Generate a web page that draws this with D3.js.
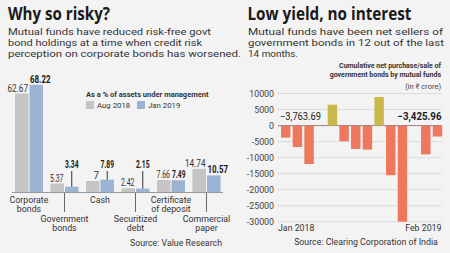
<!DOCTYPE html>
<html><head><meta charset="utf-8">
<script src="https://cdn.jsdelivr.net/npm/d3@7"></script>
<style>
html,body{margin:0;padding:0;background:#f3f3f3;}
svg{display:block;font-family:Roboto,"Open Sans",sans-serif;}
</style></head>
<body><svg id="c" width="450" height="253"></svg>
<script>
// ---- Data: left chart ----
const categories = ["Corporate bonds","Government bonds","Cash","Securitized debt","Certificate of deposit","Commercial paper"];
const categoryLines = [["Corporate","bonds"],["Government","bonds"],["Cash"],["Securitized","debt"],["Certificate","of deposit"],["Commercial","paper"]];
const aug2018 = [62.67,5.37,7,2.42,7.66,14.74];
const jan2019 = [68.22,3.34,7.89,2.15,7.49,10.57];
const seriesNames = ["Aug 2018","Jan 2019"];
const raisedJanLabel = [false,true,true,true,false,false];
const lowCategoryLabel = [false,true,false,true,false,true];

// ---- Data: right chart ----
const months = ["Jan 2018","Feb 2018","Mar 2018","Apr 2018","May 2018","Jun 2018","Jul 2018","Aug 2018","Sep 2018","Oct 2018","Nov 2018","Dec 2018","Jan 2019","Feb 2019"];
const netFlows = [-3763.69,-6700,-12000,-150,6500,-4900,-7300,-7500,8900,-15500,-30000,-150,-9000,-3425.96];
const yTicks = [10000,5000,0,-5000,-10000,-15000,-20000,-25000,-30000];
const xTickLabels = ["Jan 2018","Feb 2019"];

const svg = d3.select("#c");
const fmt = d3.format(",.2f");

function txt(x,y,s,o){
  const t = svg.append("text").attr("x",x).attr("y",y).text(s)
    .attr("font-size",o.size).attr("font-weight",o.weight||400).attr("fill",o.fill||"#222")
    .attr("text-anchor",o.anchor||"start");
  if(o.len){t.attr("textLength",o.len).attr("lengthAdjust","spacingAndGlyphs");}
  if(o.family){t.attr("font-family",o.family);}
  return t;
}
function valLen(s){ return s.length>=5 ? 20.5 : (s.length===4 ? 13.5 : 5.5); }

// ---- Left panel text ----
txt(8,20,"Why so risky?",{size:18,weight:700,len:102,fill:"#1a1a1a",family:"'Open Sans',sans-serif"});
txt(8,35,"Mutual funds have reduced risk-free govt",{size:9.4,len:203,fill:"#333"});
txt(8,46,"bond holdings at a time when credit risk",{size:9.4,len:194,fill:"#333"});
txt(8,57,"perception on corporate bonds has worsened.",{size:9.4,len:233,fill:"#333"});

const xL = d3.scaleBand().domain(categories).range([11.25,224.25]).paddingInner(0.21).paddingOuter(0.105);
const xS = d3.scaleBand().domain(seriesNames).range([0,xL.bandwidth()]).paddingInner(0.07);
const yL = d3.scaleLinear().domain([0,70]).range([192,82]);
const colL = {"Aug 2018":"#c5c5c5","Jan 2019":"#9db3d3"};

const g = svg.append("g");
categories.forEach((c,i)=>{
  const vals = [aug2018[i],jan2019[i]];
  seriesNames.forEach((s,j)=>{
    const x = xL(c)+xS(s), w = xS.bandwidth(), v = vals[j];
    g.append("rect").attr("x",x).attr("y",yL(v)).attr("width",w).attr("height",yL(0)-yL(v)).attr("fill",colL[s]);
    const cx = x+w/2, lab = String(v), L = valLen(lab);
    if(j===1 && raisedJanLabel[i]){
      g.append("line").attr("x1",cx).attr("x2",cx).attr("y1",171).attr("y2",yL(v)).attr("stroke","#333").attr("stroke-width",1);
      txt(cx-L/2,168,lab,{size:10.3,weight:700,len:L,fill:"#1a1a1a"});
    } else if(j===0){
      txt(x+w-L-0.5,yL(v)-2,lab,{size:10.3,len:L,fill:"#333"});
    } else {
      txt(x+0.5,yL(v)-2,lab,{size:10.3,weight:700,len:L,fill:"#1a1a1a"});
    }
  });
  const gc = xL(c)+xL.bandwidth()/2;
  const lines = categoryLines[i];
  if(lowCategoryLabel[i]){
    g.append("line").attr("x1",gc).attr("x2",gc).attr("y1",192).attr("y2",212).attr("stroke","#444").attr("stroke-width",0.8);
    lines.forEach((l,k)=>txt(gc,222+k*9,l,{size:8.8,anchor:"middle",fill:"#333"}));
  } else {
    lines.forEach((l,k)=>txt(gc,203+k*9,l,{size:8.8,anchor:"middle",fill:"#333"}));
  }
});
g.append("line").attr("x1",12).attr("x2",223).attr("y1",192.5).attr("y2",192.5).attr("stroke","#999").attr("stroke-width",1);

// legend
txt(86,97,"As a % of assets under management",{size:7.5,weight:700,fill:"#333"});
seriesNames.forEach((s,j)=>{
  const lx = 86 + j*51;
  svg.append("rect").attr("x",lx).attr("y",101).attr("width",8).attr("height",8).attr("fill",colL[s]);
  txt(lx+11,108,s,{size:7.8,fill:"#333"});
});
txt(222,246,"Source: Value Research",{size:8.8,anchor:"end",fill:"#333"});

// ---- Right panel ----
txt(247.5,20,"Low yield, no interest",{size:18,weight:700,len:164,fill:"#1a1a1a",family:"'Open Sans',sans-serif"});
txt(248,35,"Mutual funds have been net sellers of",{size:9.4,len:195,fill:"#333"});
txt(248,46,"government bonds in 12 out of the last",{size:9.4,len:196,fill:"#333"});
txt(248,57,"14 months.",{size:9.4,len:50,fill:"#333"});
txt(441,68,"Cumulative net purchase/sale of",{size:7,weight:700,anchor:"end",fill:"#333"});
txt(441,76.5,"government bonds by mutual funds",{size:7,weight:700,anchor:"end",fill:"#333"});
txt(441,88.5,"(in ₹ crore)",{size:7.5,anchor:"end",fill:"#444"});

const xR = d3.scaleBand().domain(months).range([279.9,443.3]).paddingInner(0.19).paddingOuter(0.095);
const yR = d3.scaleLinear().domain([-30000,10000]).range([221.7,93.5]);

const gr = svg.append("g");
gr.selectAll("line.grid").data(yTicks).enter().append("line")
  .attr("x1",278).attr("x2",442).attr("y1",d=>yR(d)).attr("y2",d=>yR(d))
  .attr("stroke",d=>d===0?"#888":"#d6d6d6").attr("stroke-width",d=>d===0?1:0.8);
gr.selectAll("text.yt").data(yTicks).enter().append("text")
  .attr("x",274).attr("y",d=>yR(d)+3.2).attr("text-anchor","end")
  .attr("font-size",8.8).attr("fill","#444").text(d=>d);
gr.selectAll("rect.b").data(netFlows).enter().append("rect")
  .attr("x",(d,i)=>xR(months[i])).attr("width",xR.bandwidth())
  .attr("y",d=>yR(Math.max(0,d))).attr("height",d=>Math.abs(yR(d)-yR(0)))
  .attr("fill",d=>d>=0?"#cbb84a":"#ee785d");
txt(280,120,fmt(netFlows[0]),{size:10.5,fill:"#222",len:41});
txt(441.5,120,fmt(netFlows[netFlows.length-1]),{size:10.5,weight:700,anchor:"end",fill:"#1a1a1a",len:44});
txt(278,231,xTickLabels[0],{size:8.8,fill:"#333"});
txt(441.5,231,xTickLabels[1],{size:8.8,anchor:"end",fill:"#333"});
txt(366,245,"Source: Clearing Corporation of India",{size:8.8,anchor:"middle",fill:"#333"});
</script></body></html>
